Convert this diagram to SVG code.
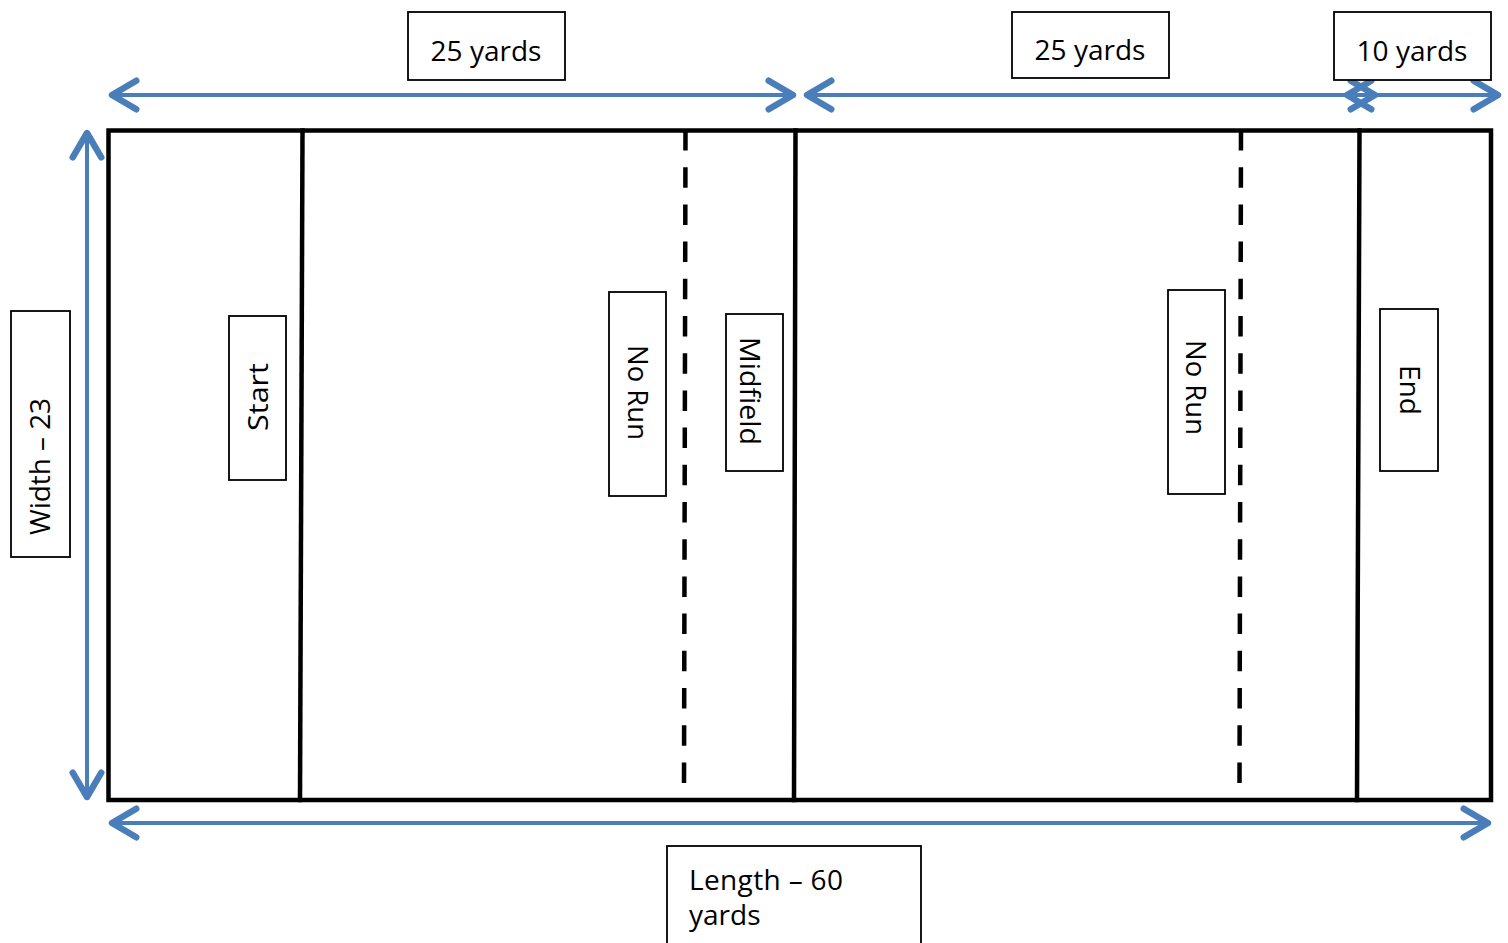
<svg xmlns="http://www.w3.org/2000/svg" width="1508" height="943" viewBox="0 0 1508 943">
<style>
.field{fill:none;stroke:#000;stroke-width:4.5;stroke-linecap:square}
.dash{fill:none;stroke:#000;stroke-width:4.5;stroke-dasharray:20.5 16.7}
.dim{fill:none;stroke:#4a7ebb;stroke-width:4;marker-start:url(#ah);marker-end:url(#ah)}
.box{fill:#fff;stroke:#000;stroke-width:1.8}
.lbl{font-family:"Open Sans","Liberation Sans",sans-serif;font-size:28px;fill:#000}
</style>
<defs>
<marker id="ah" markerUnits="userSpaceOnUse" orient="auto-start-reverse" markerWidth="40" markerHeight="40" refX="0" refY="0" viewBox="-22 -14 26 28" overflow="visible">
<path d="M -17 -10 L 0 0 L -17 10" fill="none" stroke="#4a7ebb" stroke-width="4.5" stroke-linecap="round" stroke-linejoin="round"/>
</marker>
</defs>
<g id="field">
<rect class="field" x="108.5" y="130.5" width="1382.5" height="669.5"/>
<line class="field" x1="302.5" y1="130.5" x2="300" y2="800"/>
<line class="field" x1="795.5" y1="130.5" x2="794" y2="800"/>
<line class="field" x1="1359.5" y1="130.5" x2="1357" y2="800"/>
<line class="dash" x1="685.5" y1="130" x2="684" y2="784"/>
<line class="dash" x1="1241" y1="130" x2="1239.5" y2="784"/>
</g>
<g id="connectors">
<line class="dim" x1="112" y1="95" x2="793" y2="95"/>
<line class="dim" x1="807" y1="95" x2="1375" y2="95"/>
<line class="dim" x1="1347" y1="95" x2="1498" y2="95"/>
<line class="dim" x1="87" y1="133" x2="87" y2="797"/>
<line class="dim" x1="112" y1="823" x2="1488" y2="823"/>
</g>
<g id="label-25a">
<rect class="box" x="408" y="12" width="157" height="68"/>
<text class="lbl" x="486" y="61" text-anchor="middle">25 yards</text>
</g>
<g id="label-25b">
<rect class="box" x="1012" y="12" width="157" height="66"/>
<text class="lbl" x="1090" y="60" text-anchor="middle">25 yards</text>
</g>
<g id="label-10">
<rect class="box" x="1334" y="12" width="157" height="68"/>
<text class="lbl" x="1412" y="61" text-anchor="middle">10 yards</text>
</g>
<g id="label-width">
<rect class="box" x="11" y="311" width="59" height="246"/>
<text class="lbl" transform="translate(50,535) rotate(-90)" textLength="137" lengthAdjust="spacingAndGlyphs">Width – 23</text>
</g>
<g id="label-start">
<rect class="box" x="229" y="316" width="57" height="164"/>
<text class="lbl" transform="translate(268,431) rotate(-90)" textLength="68" lengthAdjust="spacingAndGlyphs">Start</text>
</g>
<g id="label-norun1">
<rect class="box" x="609" y="292" width="57" height="204"/>
<text class="lbl" transform="translate(628,345) rotate(90)" textLength="95" lengthAdjust="spacingAndGlyphs">No Run</text>
</g>
<g id="label-midfield">
<rect class="box" x="726" y="314" width="57" height="157"/>
<text class="lbl" transform="translate(740,337) rotate(90)" textLength="108" lengthAdjust="spacingAndGlyphs">Midfield</text>
</g>
<g id="label-norun2">
<rect class="box" x="1168" y="290" width="57" height="204"/>
<text class="lbl" transform="translate(1186,340) rotate(90)" textLength="95" lengthAdjust="spacingAndGlyphs">No Run</text>
</g>
<g id="label-end">
<rect class="box" x="1380" y="309" width="58" height="162"/>
<text class="lbl" transform="translate(1400,365) rotate(90)" textLength="50" lengthAdjust="spacingAndGlyphs">End</text>
</g>
<g id="label-length">
<rect class="box" x="667" y="846" width="254" height="100"/>
<text class="lbl" x="689" y="890" textLength="154" lengthAdjust="spacing">Length – 60</text>
<text class="lbl" x="689" y="925">yards</text>
</g>
</svg>
